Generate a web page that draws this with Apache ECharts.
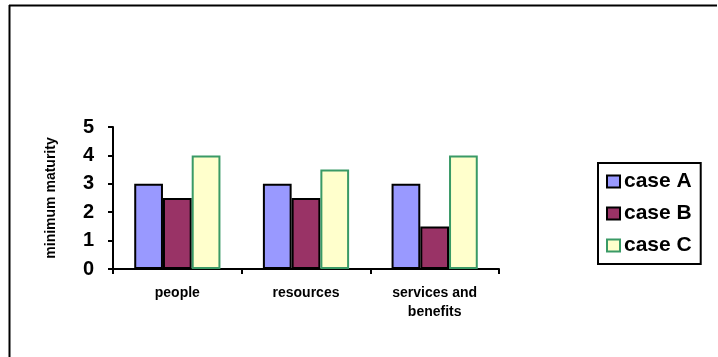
<!DOCTYPE html>
<html><head><meta charset="utf-8">
<script src="https://cdn.jsdelivr.net/npm/echarts@6/dist/echarts.min.js"></script>
<style>html,body{margin:0;padding:0;background:#fff}#c{width:718px;height:357px}</style>
</head><body><div id="c"></div>
<script>
const categories = ['people', 'resources', 'services and\nbenefits'];
const seriesNames = ['case A', 'case B', 'case C'];
const caseA = [3, 3, 3];
const caseB = [2.5, 2.5, 1.5];
const caseC = [4, 3.5, 4];
const yTicks = [0, 1, 2, 3, 4, 5];

const chart = echarts.init(document.getElementById('c'), null, {renderer: 'canvas'});
const font = 'Arial, "Liberation Sans", sans-serif';
chart.setOption({
  animation: false,
  backgroundColor: '#fff',
  graphic: [
    {type: 'line', shape: {x1: 9, y1: 5.5, x2: 717, y2: 5.5}, style: {stroke: '#000', lineWidth: 2}},
    {type: 'line', shape: {x1: 9.5, y1: 5, x2: 9.5, y2: 357}, style: {stroke: '#000', lineWidth: 2}}
  ],
  grid: {left: 113, top: 127, width: 386, height: 142, containLabel: false},
  legend: {
    orient: 'vertical', left: 598, top: 163,
    data: seriesNames,
    icon: 'rect', itemWidth: 13, itemHeight: 12, itemGap: 11,
    padding: [8, 9, 8, 8],
    borderColor: '#000', borderWidth: 2,
    textStyle: {fontFamily: font, fontWeight: 'bold', fontSize: 21, lineHeight: 21, color: '#000', padding: [0, 0, 0, -1]}
  },
  xAxis: {
    type: 'category', data: categories,
    axisLine: {lineStyle: {color: '#000', width: 2}},
    axisTick: {show: true, length: 5, lineStyle: {color: '#000', width: 2}},
    axisLabel: {fontFamily: font, fontWeight: 'bold', fontSize: 14, color: '#000', margin: 15, lineHeight: 19, interval: 0}
  },
  yAxis: {
    type: 'value', min: yTicks[0], max: yTicks[yTicks.length - 1], interval: 1,
    name: 'minimum maturity', nameLocation: 'middle', nameRotate: 90, nameGap: 55,
    nameTextStyle: {fontFamily: font, fontWeight: 'bold', fontSize: 14, color: '#000'},
    splitLine: {show: false},
    axisLine: {show: true, lineStyle: {color: '#000', width: 2}},
    axisTick: {show: true, length: 5, lineStyle: {color: '#000', width: 2}},
    axisLabel: {fontFamily: font, fontWeight: 'bold', fontSize: 20, color: '#000', margin: 19}
  },
  series: [
    {name: seriesNames[0], type: 'bar', data: caseA, barGap: '0%', barCategoryGap: '33%',
     itemStyle: {color: '#9999FF', borderColor: '#000', borderWidth: 2}},
    {name: seriesNames[1], type: 'bar', data: caseB, barGap: '0%', barCategoryGap: '33%',
     itemStyle: {color: '#993366', borderColor: '#000', borderWidth: 2}},
    {name: seriesNames[2], type: 'bar', data: caseC, barGap: '0%', barCategoryGap: '33%',
     itemStyle: {color: '#FFFFCC', borderColor: '#3A9A66', borderWidth: 2}}
  ]
});
</script></body></html>
